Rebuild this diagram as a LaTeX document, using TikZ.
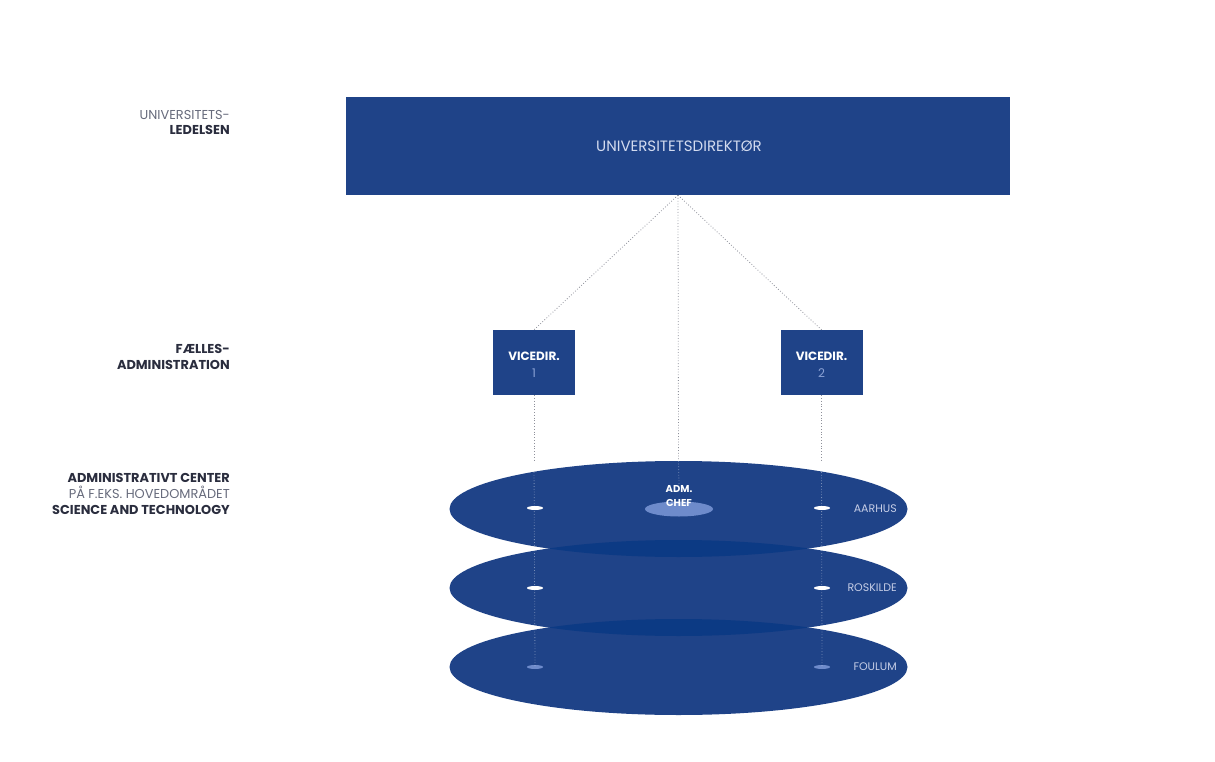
\documentclass[tikz,border=0pt]{standalone}
\usepackage{fontspec}
\setmainfont{Poppins}
\usetikzlibrary{shapes.geometric}
\definecolor{aublue}{HTML}{1F4388}
\definecolor{audark}{HTML}{0C3A84}
\definecolor{aulight}{HTML}{6E8BCB}
\definecolor{boxtext}{HTML}{D3DBEF}
\definecolor{citytext}{HTML}{C5CDE6}
\definecolor{labeldark}{HTML}{2A2D3E}
\definecolor{labelgray}{HTML}{676B7C}
\definecolor{conn}{HTML}{8E909A}
\tikzset{
  bluebox/.style={rectangle, fill=aublue, inner sep=0pt},
  campus/.style={ellipse, fill=aublue, inner sep=0pt, minimum width=458pt, minimum height=96pt},
  dashmark/.style={ellipse, fill=white, inner sep=0pt, minimum width=16pt, minimum height=4pt},
  dashlight/.style={ellipse, fill=aulight, inner sep=0pt, minimum width=16pt, minimum height=4pt},
  citylabel/.style={text=citytext, font=\fontsize{11}{13}\selectfont, anchor=east, inner sep=0pt},
  sidelabel/.style={anchor=east, align=right, inner sep=0pt, font=\fontsize{12.9}{15.8}\selectfont},
  connline/.style={draw=conn, dotted, line width=0.8pt},
  innerline/.style={draw=white, opacity=0.4, dotted, line width=0.8pt},
}
\begin{document}
\begin{tikzpicture}[x=1pt,y=-1pt]
\useasboundingbox[fill=white] (0,0) rectangle (1215,762);

% top box
\node[bluebox, minimum width=664pt, minimum height=98pt] (top) at (678,146) {};
\node[text=boxtext, font=\fontsize{15}{17}\selectfont, inner sep=0pt] (topt) at (679,146) {UNIVERSITETSDIREKTØR};

% vicedir boxes
\node[bluebox, minimum width=82pt, minimum height=65pt] (v1) at (534,362.5) {};
\node[bluebox, minimum width=82pt, minimum height=65pt] (v2) at (821.5,362.5) {};
\node[align=center, inner sep=0pt, font=\fontsize{12}{17}\selectfont] (v1t) at (534,364.5) {\textcolor{white}{\bfseries VICEDIR.}\\\textcolor{aulight!80!white}{1}};
\node[align=center, inner sep=0pt, font=\fontsize{12}{17}\selectfont] (v2t) at (821.5,364.5) {\textcolor{white}{\bfseries VICEDIR.}\\\textcolor{aulight!80!white}{2}};

% campus ellipses
\node[campus] (aarhus) at (678.5,509) {};
\node[campus] (roskilde) at (678.5,588) {};
\node[campus] (foulum) at (678.5,667) {};
\begin{scope}
  \clip (678.5,509) ellipse [x radius=229pt, y radius=48pt];
  \fill[audark] (678.5,588) ellipse [x radius=229pt, y radius=48pt];
\end{scope}
\begin{scope}
  \clip (678.5,588) ellipse [x radius=229pt, y radius=48pt];
  \fill[audark] (678.5,667) ellipse [x radius=229pt, y radius=48pt];
\end{scope}

% adm chef
\node[ellipse, fill=aulight, inner sep=0pt, minimum width=68pt, minimum height=15pt] (chef) at (679,509) {};
\node[align=center, inner sep=0pt, text=white, font=\bfseries\fontsize{10}{14}\selectfont] (adm) at (679,496) {ADM.\\CHEF};

% dash marks
\node[dashmark] (d1a) at (535,508) {};
\node[dashmark] (d2a) at (822,508) {};
\node[dashmark] (d1b) at (535,588) {};
\node[dashmark] (d2b) at (822,588) {};
\node[dashlight] (d1c) at (535,667) {};
\node[dashlight] (d2c) at (822,667) {};

% city labels
\node[citylabel] (aarhust) at (897,509) {AARHUS};
\node[citylabel] (roskildet) at (897,588) {ROSKILDE};
\node[citylabel] (foulumt) at (897,667) {FOULUM};

% connectors
\draw[connline] (top.south) -- (v1.north);
\draw[connline] (top.south) -- (v2.north);
\draw[connline] (top.south) -- (aarhus.north);
\draw[innerline] (aarhus.north) -- (adm.north);
\draw[connline] (v1.south) -- (v1.south |- aarhus.north);
\draw[connline] (v2.south) -- (v2.south |- aarhus.north);
\draw[innerline] (v1.south |- aarhus.north) -- (d1c.center);
\draw[innerline] (v2.south |- aarhus.north) -- (d2c.center);

% side labels
\node[sidelabel] (lbl1) at (230,122.5) {\textcolor{labelgray}{UNIVERSITETS-}\\\textcolor{labeldark}{\bfseries LEDELSEN}};
\node[sidelabel] (lbl2) at (230,357) {\textcolor{labeldark}{\bfseries FÆLLES-}\\\textcolor{labeldark}{\bfseries ADMINISTRATION}};
\node[sidelabel] (lbl3) at (230,494) {\textcolor{labeldark}{\bfseries ADMINISTRATIVT CENTER}\\\textcolor{labelgray}{PÅ F.EKS. HOVEDOMRÅDET}\\\textcolor{labeldark}{\bfseries SCIENCE AND TECHNOLOGY}};
\end{tikzpicture}
\end{document}
